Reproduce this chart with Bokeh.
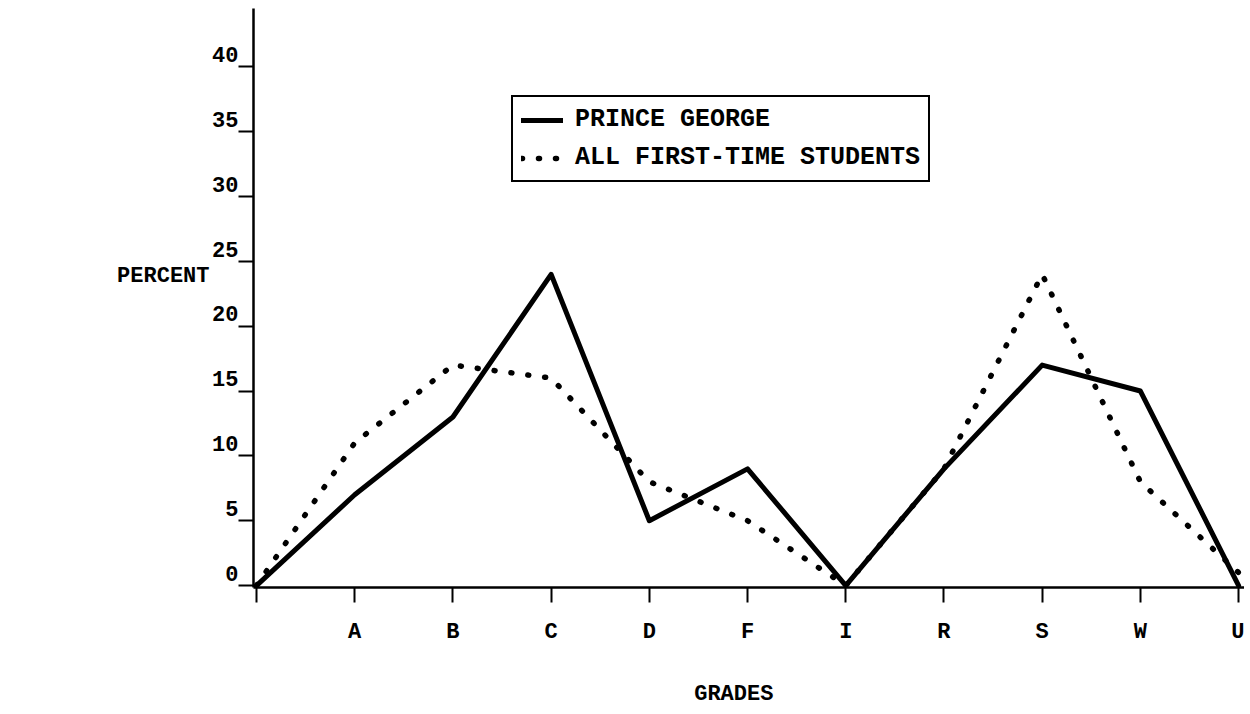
from bokeh.plotting import figure
from bokeh.models import (FixedTicker, Range1d, LinearAxis, Legend, LegendItem)
from bokeh.embed import file_html
from bokeh.resources import INLINE

# ---- data -------------------------------------------------------------
grades = ["", "A", "B", "C", "D", "F", "I", "R", "S", "W", "U"]
prince_george = [0, 7, 13, 24, 5, 9, 0, 9, 17, 15, 0]
all_first_time = [0, 11, 17, 16, 8, 5, 0, 9, 24, 8, 1]
y_ticks = [0, 5, 10, 15, 20, 25, 30, 35, 40]
y_tick_labels = ["0", "5", "10", "15", "20", "25", "30", "35", "40"]
series_names = ["PRINCE GEORGE", "ALL FIRST-TIME STUDENTS"]
x_title = "GRADES"
y_title = "PERCENT"

FONT = "Liberation Mono"
STYLE = "bold"
W, H = 1244, 712
Y0, Y1 = -0.15, 44.5
LABEL_SHIFT = 0.95          # y tick labels sit just above their ticks
Y_TITLE_AT = 23.8           # vertical place of the PERCENT title (data units)
X_TITLE_AT = 4.86           # horizontal place of the GRADES title (data units)

x_pos = list(range(len(grades)))

p = figure(width=W, height=H, output_backend="svg", toolbar_location=None,
           x_range=Range1d(-0.0305, 10.06), y_range=Range1d(Y0, Y1),
           min_border_left=253, min_border_right=0, min_border_top=8,
           min_border_bottom=H - 587)
p.extra_y_ranges = {"ylbl": Range1d(Y0 - LABEL_SHIFT, Y1 - LABEL_SHIFT)}

p.xgrid.visible = False
p.ygrid.visible = False
p.outline_line_color = None
p.background_fill_color = "white"
p.border_fill_color = "white"

# x axis
p.xaxis.ticker = FixedTicker(ticks=x_pos)
p.xaxis.major_label_overrides = {i: g for i, g in zip(x_pos, grades)}
p.xaxis.axis_line_width = 2.5
p.xaxis.axis_line_color = "black"
p.xaxis.major_tick_line_width = 2
p.xaxis.major_tick_line_color = "black"
p.xaxis.major_tick_out = 15
p.xaxis.major_tick_in = 0
p.xaxis.minor_tick_out = 0
p.xaxis.minor_tick_in = 0
p.xaxis.major_label_text_font = FONT
p.xaxis.major_label_text_font_style = STYLE
p.xaxis.major_label_text_font_size = "22px"
p.xaxis.major_label_text_color = "black"
p.xaxis.major_label_standoff = 17

# x title as a lone label beneath the axis
xt = LinearAxis(ticker=FixedTicker(ticks=[X_TITLE_AT]),
                major_label_overrides={X_TITLE_AT: x_title},
                axis_line_color=None, major_tick_line_color=None,
                minor_tick_line_color=None, major_tick_out=0, major_tick_in=0,
                major_label_standoff=34, major_label_text_font=FONT,
                major_label_text_font_style=STYLE,
                major_label_text_font_size="22px", major_label_text_color="black")
p.add_layout(xt, "below")

# y axis: line + tick marks (tick marks carried as minor ticks, no labels)
p.yaxis.ticker = FixedTicker(ticks=[], minor_ticks=y_ticks)
p.yaxis.axis_line_width = 2.5
p.yaxis.axis_line_color = "black"
p.yaxis.major_tick_out = 0
p.yaxis.major_tick_in = 0
p.yaxis.minor_tick_out = 15
p.yaxis.minor_tick_in = 0
p.yaxis.minor_tick_line_width = 2
p.yaxis.minor_tick_line_color = "black"

# y tick labels (slightly raised, like the typewritten original)
yl = LinearAxis(y_range_name="ylbl", ticker=FixedTicker(ticks=y_ticks),
                major_label_overrides={v: t for v, t in zip(y_ticks, y_tick_labels)},
                axis_line_color=None, major_tick_line_color=None,
                minor_tick_line_color=None, major_tick_out=0, major_tick_in=0,
                major_label_standoff=0, major_label_text_font=FONT,
                major_label_text_font_style=STYLE,
                major_label_text_font_size="22px", major_label_text_color="black")
p.add_layout(yl, "left")

# y title
yt = LinearAxis(ticker=FixedTicker(ticks=[Y_TITLE_AT]),
                major_label_overrides={Y_TITLE_AT: y_title},
                axis_line_color=None, major_tick_line_color=None,
                minor_tick_line_color=None, major_tick_out=0, major_tick_in=0,
                major_label_standoff=0, major_label_text_font=FONT,
                major_label_text_font_style=STYLE,
                major_label_text_font_size="22px", major_label_text_color="black")
p.add_layout(yt, "left")

# series
r1 = p.line(x_pos, prince_george, line_width=5, line_color="black",
            line_join="round", line_cap="round")
r2 = p.line(x_pos, all_first_time, line_width=5.5, line_color="black",
            line_dash="1 16", line_cap="round", line_join="round")

legend = Legend(items=[LegendItem(label=series_names[0], renderers=[r1]),
                       LegendItem(label=series_names[1], renderers=[r2])],
                location=(258, 405), orientation="vertical",
                border_line_color="black", border_line_width=2,
                border_line_alpha=1,
                background_fill_color="white", background_fill_alpha=1,
                label_text_font=FONT, label_text_font_style=STYLE,
                label_text_font_size="25px",
                label_text_color="black", glyph_width=42, glyph_height=20,
                label_standoff=12, padding=8, spacing=9, margin=0)
p.add_layout(legend)

open("out.html", "w").write(file_html(p, INLINE))
